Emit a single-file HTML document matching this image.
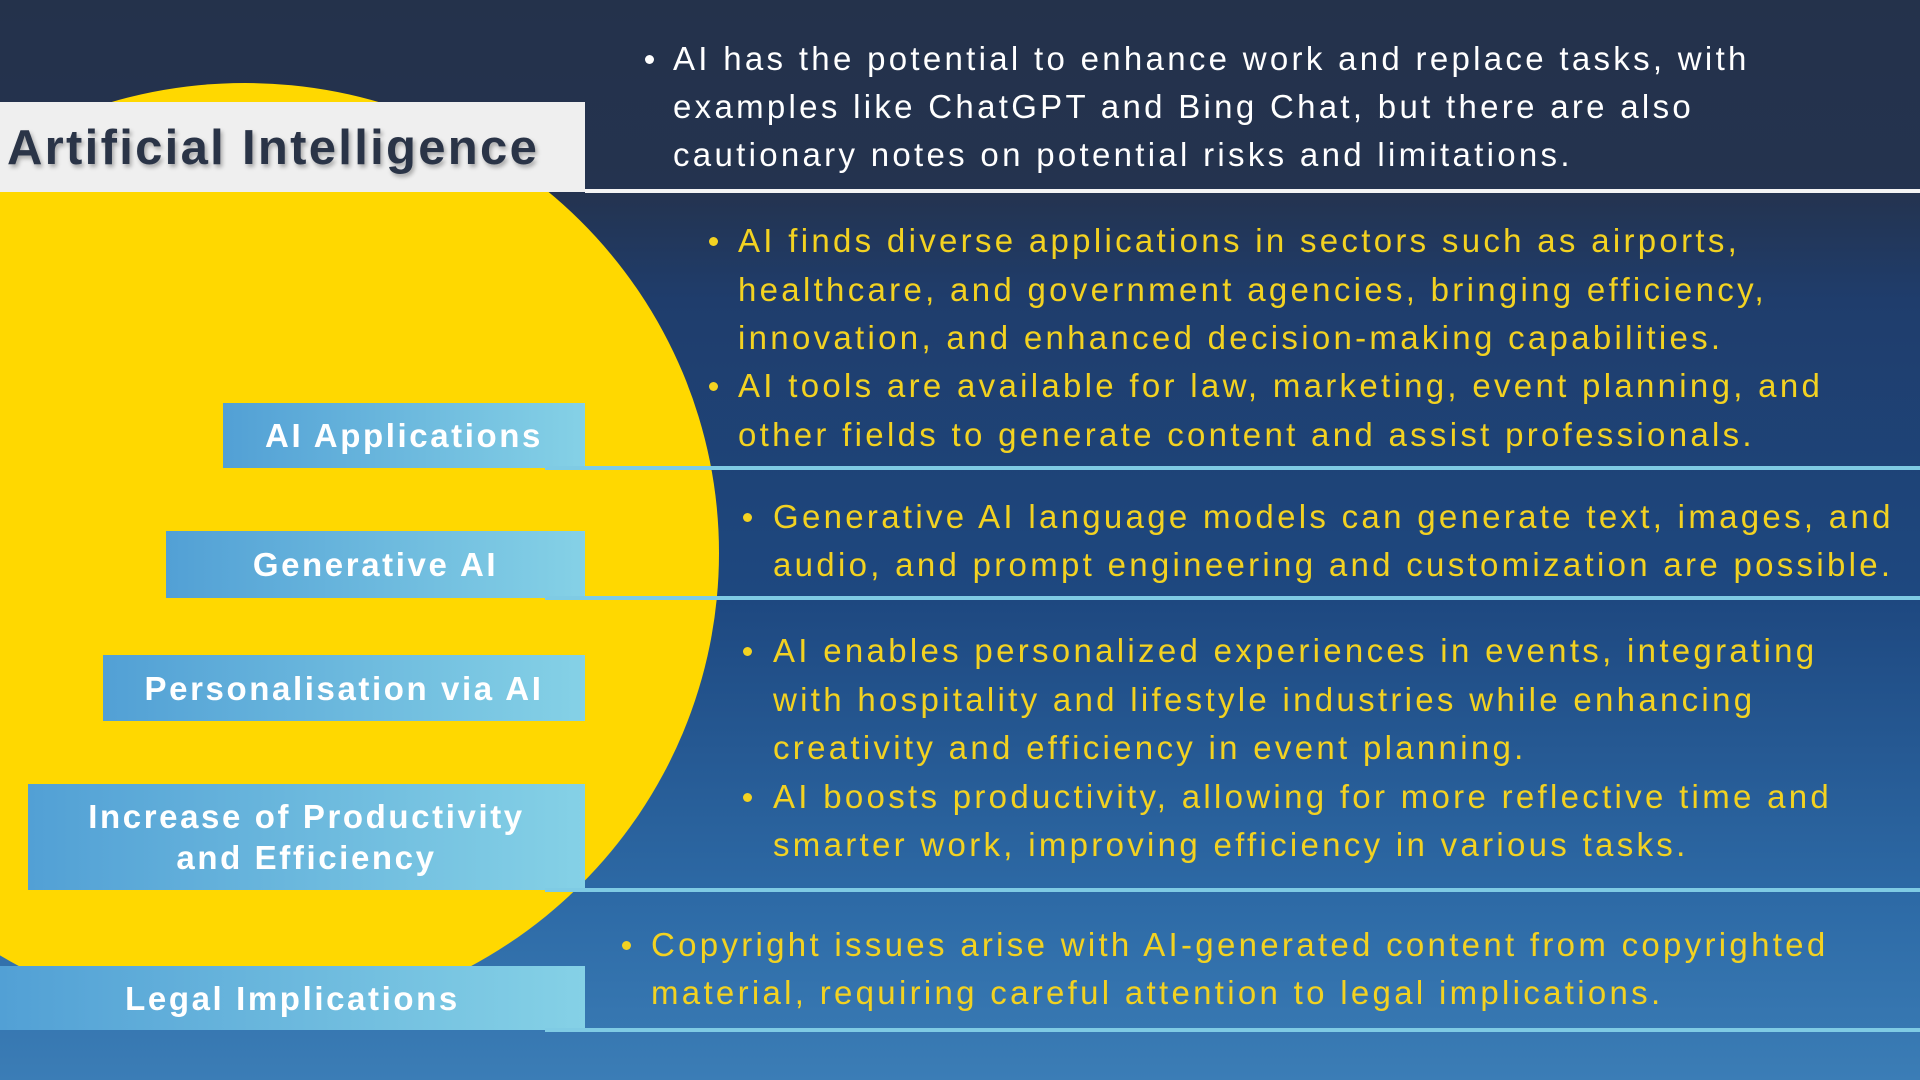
<!DOCTYPE html>
<html><head><meta charset="utf-8"><style>
*{margin:0;padding:0;box-sizing:border-box}
body{width:1920px;height:1080px;overflow:hidden;position:relative;font-family:"Liberation Sans",sans-serif;
background:linear-gradient(180deg,#24324b 0px,#24334f 190px,#1f3d6c 300px,#1e4880 600px,#2d6aa6 900px,#3b7db6 1080px);}
.circ{position:absolute;left:-229px;top:83px;width:948px;height:940px;border-radius:50%;background:#ffd800}
.title{position:absolute;left:0;top:102px;width:585px;height:90px;background:#efefef;color:#2a3447;font-weight:bold;font-size:49px;line-height:92px;padding-left:7px;letter-spacing:2.3px;text-shadow:2px 3px 4px rgba(0,0,0,.3);white-space:nowrap}
.lab{position:absolute;background:linear-gradient(90deg,#52a0d5,#85d1e6);color:#fff;font-weight:bold;font-size:33px;text-align:center;letter-spacing:2.6px;display:flex;align-items:center;justify-content:center;line-height:41px}
.ln{position:absolute;height:4px;background:#7fcbe4;left:545px;right:0}
.t{position:absolute;font-size:33px;white-space:nowrap;line-height:40px;letter-spacing:3.3px}
.w{color:#fff}.y{color:#f3d221}
.b{position:absolute;width:9px;height:9px;border-radius:50%}
</style></head><body>
<div class="circ"></div>
<div style="position:absolute;left:585px;right:0;top:189px;height:4px;background:#f4f4f4"></div>
<div class="title">Artificial Intelligence</div>

<div class="lab" style="left:223px;top:403px;width:362px;height:65px">AI Applications</div>
<div class="lab" style="left:166px;top:531px;width:419px;height:67px">Generative AI</div>
<div class="lab" style="left:103px;top:655px;width:482px;height:66px">Personalisation via AI</div>
<div class="lab" style="left:28px;top:784px;width:557px;height:106px">Increase of Productivity<br>and Efficiency</div>
<div class="lab" style="left:0;top:966px;width:585px;height:64px">Legal Implications</div>

<div class="ln" style="top:466px"></div>
<div class="ln" style="top:596px"></div>
<div class="ln" style="top:888px"></div>
<div class="ln" style="top:1028px"></div>

<div class="b" style="left:645px;top:55px;background:#fff"></div>
<div class="t w" style="left:673px;top:39px">AI has the potential to enhance work and replace tasks, with</div>
<div class="t w" style="left:673px;top:87px">examples like ChatGPT and Bing Chat, but there are also</div>
<div class="t w" style="left:673px;top:135px">cautionary notes on potential risks and limitations.</div>

<div class="b" style="left:709px;top:237px;background:#f3d221"></div>
<div class="t y" style="left:738px;top:221px">AI finds diverse applications in sectors such as airports,</div>
<div class="t y" style="left:738px;top:270px">healthcare, and government agencies, bringing efficiency,</div>
<div class="t y" style="left:738px;top:318px">innovation, and enhanced decision-making capabilities.</div>
<div class="b" style="left:709px;top:382px;background:#f3d221"></div>
<div class="t y" style="left:738px;top:366px">AI tools are available for law, marketing, event planning, and</div>
<div class="t y" style="left:738px;top:415px">other fields to generate content and assist professionals.</div>

<div class="b" style="left:743px;top:513px;background:#f3d221"></div>
<div class="t y" style="left:773px;top:497px">Generative AI language models can generate text, images, and</div>
<div class="t y" style="left:773px;top:545px">audio, and prompt engineering and customization are possible.</div>

<div class="b" style="left:743px;top:647px;background:#f3d221"></div>
<div class="t y" style="left:773px;top:631px">AI enables personalized experiences in events, integrating</div>
<div class="t y" style="left:773px;top:680px">with hospitality and lifestyle industries while enhancing</div>
<div class="t y" style="left:773px;top:728px">creativity and efficiency in event planning.</div>
<div class="b" style="left:743px;top:793px;background:#f3d221"></div>
<div class="t y" style="left:773px;top:777px">AI boosts productivity, allowing for more reflective time and</div>
<div class="t y" style="left:773px;top:825px">smarter work, improving efficiency in various tasks.</div>

<div class="b" style="left:622px;top:941px;background:#f3d221"></div>
<div class="t y" style="left:651px;top:925px">Copyright issues arise with AI-generated content from copyrighted</div>
<div class="t y" style="left:651px;top:973px">material, requiring careful attention to legal implications.</div>
</body></html>
